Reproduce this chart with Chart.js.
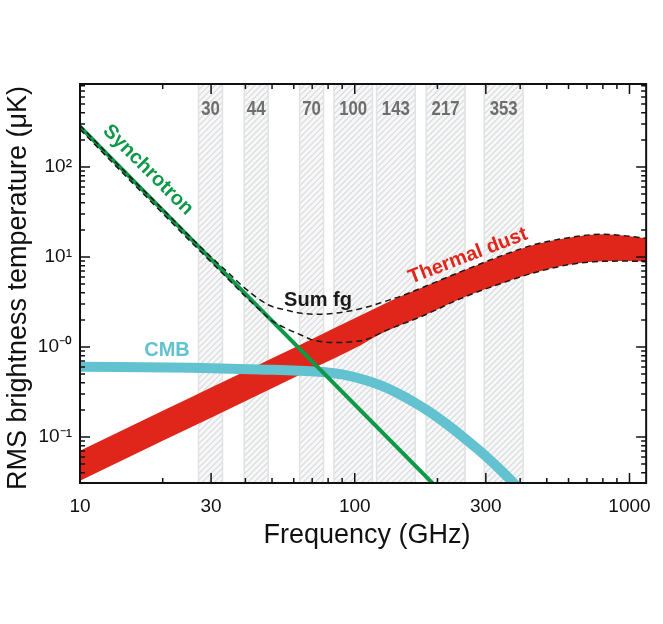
<!DOCTYPE html>
<html><head><meta charset="utf-8">
<script src="https://cdn.jsdelivr.net/npm/chart.js@4.4.0/dist/chart.umd.min.js"></script>
<style>html,body{margin:0;padding:0;background:#fff}</style>
</head><body>
<canvas id="c" width="663" height="624" style="display:block;width:663px;height:624px"></canvas>
<script>
// ---- data ----
const xTickValues=[10,30,100,300,1000];
const xTickLabels=['10','30','100','300','1000'];
const yTickValues=[0.1,1,10,100];
const yTickLabels=['10⁻¹','10⁻⁰','10¹','10²'];
const bandNames=['30','44','70','100','143','217','353'];
const bandLow=[27,39.6,63,84,120,182,296];
const bandHigh=[33,48.4,77,116,166,252,410];

const synchFreq=[10,200];
const synchT=[280,0.027];
const dustFreq=[10,20,30,50,70,100,122,150,180,250,350,450,600,800,1000,1200];
const dustUpper=[0.0705,0.195,0.354,0.75,1.23,2.08,2.8,3.75,4.7,7.1,10.6,13.7,16.4,17.9,17.0,15.8];
const dustLower=[0.0327,0.0906,0.164,0.348,0.572,0.965,1.36,1.8,2.27,3.58,5.22,6.69,8.2,8.95,9.0,8.8];
const cmbFreq=[10,25.7,44.8,62.5,82.4,90,108.9,125,144,165,189.7,220,250.6,280,312.5,345,379.6,420];
const cmbT=[0.604,0.589,0.562,0.545,0.515,0.495,0.429,0.371,0.304,0.242,0.185,0.133,0.0973,0.0734,0.0546,0.0409,0.0304,0.0215];
const sumUpFreq=[10,15,20,25,30,35,40,48.6,56,64,74,85,97,112,128,150,180,250,350,450,600,800,1000,1200];
const sumUp=[290,81,34,17.1,10,6.5,4.45,2.93,2.58,2.37,2.31,2.37,2.53,2.8,3.19,3.75,4.7,7.1,10.6,13.7,16.4,17.9,17.0,15.8];
const sumLowFreq=[10,15,20,25,30,35,40,45,50,57,64,70,85,100,109,132,165,180,250,350,450,600,800,1000,1200];
const sumLow=[262,74,30.5,15.3,8.8,5.5,3.65,2.6,1.95,1.58,1.35,1.2,1.12,1.15,1.2,1.56,2.03,2.27,3.58,5.22,6.69,8.2,8.95,9.0,8.8];

const xMinorTicks=[20,40,50,60,70,80,90,200,400,500,600,700,800,900];
const xMajorTicks=[30,100,300,1000];

const GREEN='#0d9947', RED='#e0261b', CYAN='#62c2d0', BANDTXT='#6e6e6e';

const pts=(xs,ys)=>xs.map((v,i)=>({x:v,y:ys[i]}));

const deco={
  id:'deco',
  beforeDatasetsDraw(chart){
    const {ctx,chartArea:a,scales:{x}}=chart;
    for(let i=0;i<bandLow.length;i++){
      const x0=x.getPixelForValue(bandLow[i]), x1=x.getPixelForValue(bandHigh[i]);
      const w=x1-x0, h=a.bottom-a.top;
      ctx.save();
      ctx.beginPath(); ctx.rect(x0,a.top,w,h); ctx.clip();
      ctx.fillStyle='#f8f8f9'; ctx.fillRect(x0,a.top,w,h);
      ctx.strokeStyle='#dcdee0'; ctx.lineWidth=1.4;
      ctx.beginPath();
      for(let k=-h;k<w+h;k+=6){ ctx.moveTo(x0+k,a.bottom); ctx.lineTo(x0+k+h,a.top); }
      ctx.stroke();
      ctx.restore();
      ctx.save();
      ctx.strokeStyle='#e0e2e4'; ctx.lineWidth=1.5;
      ctx.beginPath(); ctx.moveTo(x0,a.top); ctx.lineTo(x0,a.bottom); ctx.moveTo(x1,a.top); ctx.lineTo(x1,a.bottom); ctx.stroke();
      ctx.restore();
    }
  },
  afterDraw(chart){
    const {ctx,chartArea:a,scales:{x,y}}=chart;
    ctx.save();
    // band labels (condensed bold)
    ctx.fillStyle=BANDTXT; ctx.textAlign='center'; ctx.textBaseline='middle';
    ctx.font='bold 20px "Liberation Sans", Arial, sans-serif';
    for(let i=0;i<bandNames.length;i++){
      const xc=(x.getPixelForValue(bandLow[i])+x.getPixelForValue(bandHigh[i]))/2;
      ctx.save(); ctx.translate(xc,109); ctx.scale(0.84,1); ctx.fillText(bandNames[i],0,0); ctx.restore();
    }
    // frame
    ctx.strokeStyle='#111'; ctx.lineWidth=2;
    ctx.strokeRect(a.left,a.top,a.right-a.left,a.bottom-a.top);
    // ticks
    ctx.lineWidth=1.5;
    ctx.beginPath();
    const xt=(v,len)=>{const p=x.getPixelForValue(v); ctx.moveTo(p,a.bottom); ctx.lineTo(p,a.bottom-len); ctx.moveTo(p,a.top); ctx.lineTo(p,a.top+len);};
    xMinorTicks.forEach(v=>xt(v,5)); xMajorTicks.forEach(v=>xt(v,10));
    const yt=(v,len)=>{const p=y.getPixelForValue(v); ctx.moveTo(a.left,p); ctx.lineTo(a.left+len,p); ctx.moveTo(a.right,p); ctx.lineTo(a.right-len,p);};
    for(let d=-2; d<=2; d++){
      for(let k=2;k<=9;k++){ const v=k*Math.pow(10,d); if(v>y.min && v<y.max) yt(v,5); }
    }
    yTickValues.forEach(v=>yt(v,10));
    ctx.stroke();
    // annotations
    const label=(t,cx,cy,ang,color)=>{ctx.save();ctx.translate(cx,cy);ctx.rotate(ang*Math.PI/180);ctx.fillStyle=color;ctx.textAlign='center';ctx.textBaseline='middle';ctx.fillText(t,0,0);ctx.restore();};
    ctx.font='bold 20px "Liberation Sans", Arial, sans-serif';
    label('Synchrotron',148,170,45,GREEN);
    label('Thermal dust',468,256,-21,RED);
    label('Sum fg',318,300,0,'#1a1a1a');
    label('CMB',167,350,0,CYAN);
    // axis titles
    ctx.fillStyle='#111';
    ctx.font='27px "Liberation Sans", Arial, sans-serif';
    ctx.textAlign='center'; ctx.textBaseline='alphabetic';
    ctx.fillText('Frequency (GHz)',367,543);
    ctx.save(); ctx.translate(26,288); ctx.rotate(-Math.PI/2);
    ctx.fillText('RMS brightness temperature (μK)',0,0); ctx.restore();
    ctx.restore();
  }
};

new Chart(document.getElementById('c').getContext('2d'),{
  type:'line',
  data:{datasets:[
    {label:'Sum fg upper',data:pts(sumUpFreq,sumUp),borderColor:'#1a1a1a',borderWidth:1.5,borderDash:[6,4],pointRadius:0,fill:false,cubicInterpolationMode:'monotone',order:0},
    {label:'Sum fg lower',data:pts(sumLowFreq,sumLow),borderColor:'#1a1a1a',borderWidth:1.5,borderDash:[6,4],pointRadius:0,fill:false,cubicInterpolationMode:'monotone',order:0},
    {label:'Synchrotron',data:pts(synchFreq,synchT),borderColor:GREEN,borderWidth:4,pointRadius:0,fill:false,order:1},
    {label:'CMB',data:pts(cmbFreq,cmbT),borderColor:CYAN,borderWidth:10,pointRadius:0,fill:false,cubicInterpolationMode:'monotone',order:2},
    {label:'Thermal dust upper',data:pts(dustFreq,dustUpper),borderColor:RED,borderWidth:0,pointRadius:0,backgroundColor:RED,fill:'+1',cubicInterpolationMode:'monotone',order:3},
    {label:'Thermal dust lower',data:pts(dustFreq,dustLower),borderColor:RED,borderWidth:0,pointRadius:0,fill:false,cubicInterpolationMode:'monotone',order:4}
  ]},
  options:{
    responsive:false,animation:false,
    layout:{padding:{left:0,right:13,top:84,bottom:0}},
    plugins:{legend:{display:false},tooltip:{enabled:false}},
    scales:{
      x:{type:'logarithmic',min:10,max:1150,
        grid:{display:false,drawTicks:false},border:{display:false},
        afterBuildTicks:s=>{s.ticks=xTickValues.map(v=>({value:v}));},
        afterFit:s=>{s.height=141;},
        ticks:{autoSkip:false,maxRotation:0,minRotation:0,padding:12,color:'#111',
          font:{family:'"Liberation Sans", Arial, sans-serif',size:19},
          callback:(v)=>{const i=xTickValues.indexOf(v);return i<0?'':xTickLabels[i];}}},
      y:{type:'logarithmic',min:0.0308,max:836,
        grid:{display:false,drawTicks:false},border:{display:false},
        afterBuildTicks:s=>{s.ticks=yTickValues.map(v=>({value:v}));},
        afterFit:s=>{s.width=80;},
        ticks:{autoSkip:false,padding:8,color:'#111',
          font:{family:'"Liberation Sans", Arial, sans-serif',size:19},
          callback:(v)=>{const i=yTickValues.indexOf(v);return i<0?'':yTickLabels[i];}}}
    }
  },
  plugins:[deco]
});
</script>
</body></html>
